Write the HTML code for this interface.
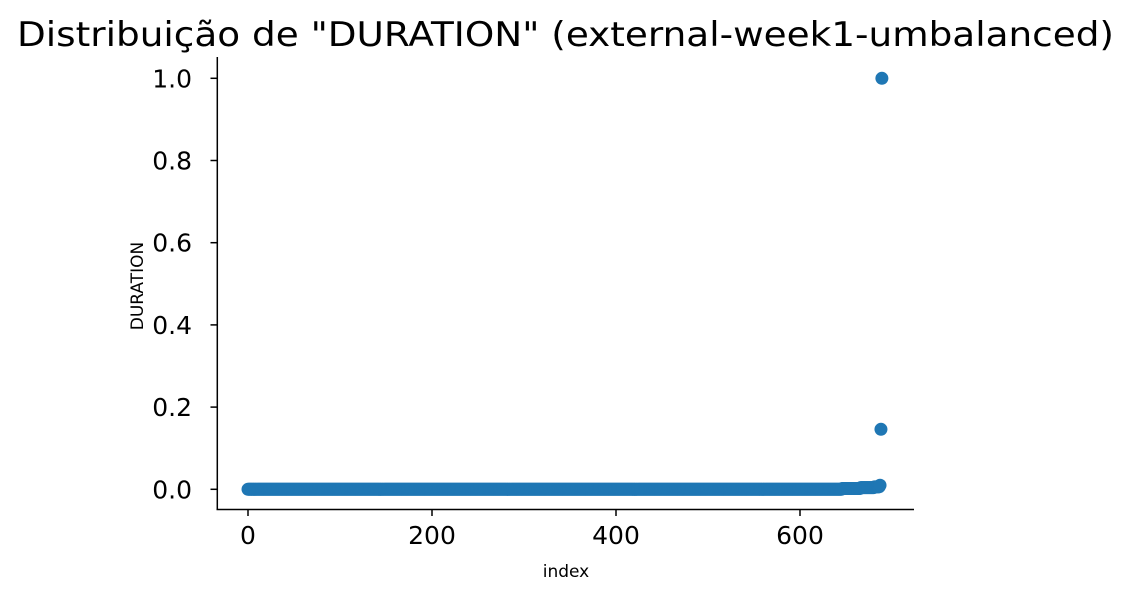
<!DOCTYPE html>
<html><head><meta charset="utf-8"><style>
body{margin:0;background:#fff}
svg text{font-family:"DejaVu Sans","Liberation Sans",sans-serif}
</style></head><body>
<svg id="chart" width="1130" height="596" xmlns="http://www.w3.org/2000/svg">
<text x="17" y="46" font-size="34" textLength="1097" lengthAdjust="spacingAndGlyphs" fill="#000">Distribuição de "DURATION" (external-week1-umbalanced)</text>
<g id="marks"></g>
<g id="axes"></g>
<text x="566" y="577" font-size="17" text-anchor="middle">index</text>
<text transform="translate(143,286) rotate(-90)" font-size="17" text-anchor="middle">DURATION</text>
</svg>
<script>
// run-length encoded data: runLengths[i] points with value runValues[i]
const runLengths = [646, 20, 15, 6, 1, 1, 1];
const runValues  = [0.0, 0.002, 0.004, 0.006, 0.01, 0.146, 1.0];
const xTicks = [0, 200, 400, 600];
const yTicks = [0.0, 0.2, 0.4, 0.6, 0.8, 1.0];
const yTickLabels = ["0.0","0.2","0.4","0.6","0.8","1.0"];

const NS="http://www.w3.org/2000/svg";
const xs = v => 248 + v*0.92;
const ys = v => 489.3 - v*411;
const marks=document.getElementById('marks');
const axes=document.getElementById('axes');
function mk(tag,attrs,parent){const e=document.createElementNS(NS,tag);for(const k in attrs)e.setAttribute(k,attrs[k]);parent.appendChild(e);return e;}
let idx=0;
runLengths.forEach((n,r)=>{
  for(let j=0;j<n;j++){
    const c=mk('circle',{cx:xs(idx),cy:ys(runValues[r]),r:6.5,fill:'#1f77b4'},marks);
    
    
    idx++;
  }
});
const ly=mk('line',{x1:217.3,y1:57,x2:217.3,y2:509.5,stroke:'#000','stroke-width':1.5},axes);


const lx=mk('line',{x1:216.5,y1:509.5,x2:914,y2:509.5,stroke:'#000','stroke-width':1.5},axes);


xTicks.forEach(t=>{
  const x=xs(t);
  const tk=mk('line',{x1:x,y1:509.5,x2:x,y2:516,stroke:'#000','stroke-width':1.5},axes);
  
  
  const tx=mk('text',{x:x,y:544,'font-size':25,'text-anchor':'middle'},axes);
  tx.textContent=String(t);
  
  
});
yTicks.forEach((t,i)=>{
  const y=ys(t);
  const tk=mk('line',{x1:210.5,y1:y,x2:217.3,y2:y,stroke:'#000','stroke-width':1.5},axes);
  
  
  const tx=mk('text',{x:192,y:y+9,'font-size':25,'text-anchor':'end'},axes);
  tx.textContent=yTickLabels[i];
  
  
});
</script>
</body></html>
